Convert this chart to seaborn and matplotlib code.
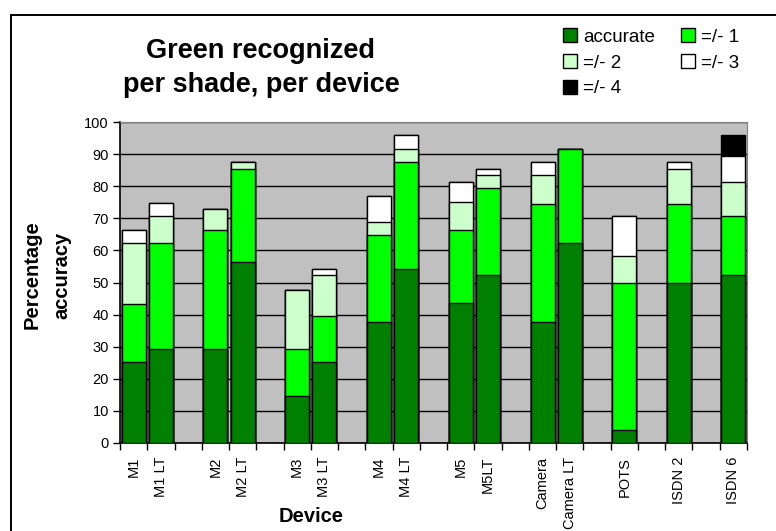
import numpy as np
import pandas as pd
import matplotlib
matplotlib.use("Agg")
import matplotlib.pyplot as plt
from matplotlib.patches import Patch, Rectangle
import seaborn as sns

# categories in display order, blank slots are the gaps between device groups
slots = ["M1", "M1 LT", " ", "M2", "M2 LT", "  ", "M3", "M3 LT", "   ",
         "M4", "M4 LT", "    ", "M5", "M5LT", "     ", "Camera", "Camera LT",
         "      ", "POTS", "       ", "ISDN 2", "        ", "ISDN 6"]
devices = ["M1", "M1 LT", "M2", "M2 LT", "M3", "M3 LT", "M4", "M4 LT", "M5",
           "M5LT", "Camera", "Camera LT", "POTS", "ISDN 2", "ISDN 6"]

# segment heights per device (percentage points)
accurate = [25.2, 29.4, 29.4, 56.4, 14.6, 25.2, 37.6, 54.1, 43.6, 52.3, 37.6, 62.3, 3.9, 49.8, 52.3]
pm1 = [18.2, 32.9, 37.1, 29.0, 14.6, 14.3, 27.1, 33.4, 22.9, 27.0, 37.0, 29.3, 45.9, 24.8, 18.3]
pm2 = [18.9, 8.3, 6.4, 2.2, 18.4, 12.7, 4.0, 4.2, 8.7, 4.2, 8.9, 0.0, 8.4, 10.8, 10.6]
pm3 = [4.2, 4.2, 0.0, 0.0, 0.0, 1.9, 8.2, 4.2, 6.0, 1.9, 4.1, 0.0, 12.4, 2.1, 8.1]
pm4 = [0.0, 0.0, 0.0, 0.0, 0.0, 0.0, 0.0, 0.0, 0.0, 0.0, 0.0, 0.0, 0.0, 0.0, 6.6]

levels = ["accurate", "=/- 1", "=/- 2", "=/- 3", "=/- 4"]
colors = ["#008000", "#00FF00", "#CCFFCC", "#FFFFFF", "#000000"]

df = pd.DataFrame({"device": devices})
cum = np.zeros(len(devices))
for name, seg in zip(levels, [accurate, pm1, pm2, pm3, pm4]):
    cum = cum + np.array(seg)
    df[name] = cum

sns.set_style("ticks")
plt.rcParams["font.family"] = ["Liberation Sans", "DejaVu Sans"]
for key in ["text.color", "axes.labelcolor", "xtick.color", "ytick.color"]:
    plt.rcParams[key] = "black"

fig = plt.figure(figsize=(7.76, 5.31), dpi=100)
ax = fig.add_axes([120 / 776, 1 - 443 / 531, 627 / 776, 321 / 531])
ax.set_facecolor("#C0C0C0")

# draw cumulative totals from the top down so each layer covers the one above
for name, col in reversed(list(zip(levels, colors))):
    sns.barplot(data=df, x="device", y=name, order=slots, color=col,
                saturation=1, edgecolor="black", linewidth=1, width=0.88,
                errorbar=None, ax=ax, zorder=3)

ax.set_ylim(0, 100)
ax.set_yticks(range(0, 101, 10))
ax.yaxis.grid(True, color="black", lw=1)
ax.xaxis.grid(False)
ax.set_axisbelow(True)
ax.tick_params(axis="y", labelsize=10.5, length=5, width=1, color="black", pad=3)
ax.set_xticks(range(len(slots)))
ax.set_xticklabels(slots, rotation=90, fontsize=10.5)
ax.tick_params(axis="x", which="major", length=0, pad=10)
ax.set_xticks(np.arange(-0.5, len(slots)), minor=True)
ax.tick_params(axis="x", which="minor", length=5, width=1, color="black")
ax.set_xlim(-0.5, len(slots) - 0.5)
ax.set_xlabel("")
ax.set_ylabel("")
for s in ["top", "right"]:
    ax.spines[s].set_color("#808080")
for s in ["left", "bottom"]:
    ax.spines[s].set_color("black")
    ax.spines[s].set_linewidth(1.2)

fig.text(261 / 776, 1 - 68 / 531, "Green recognized\nper shade, per device",
         ha="center", va="center", fontsize=19.5, fontweight="bold", linespacing=1.4)
fig.text(47 / 776, 1 - 275 / 531, "Percentage\naccuracy", ha="center", va="center",
         rotation=90, fontsize=14.5, fontweight="bold", linespacing=1.75)
fig.text(311 / 776, 1 - 516 / 531, "Device", ha="center", va="center",
         fontsize=14.5, fontweight="bold")

handles = [Patch(facecolor=c, edgecolor="black", linewidth=1) for c in colors]
order = [0, 2, 4, 1, 3]
fig.legend([handles[i] for i in order], [levels[i] for i in order],
           loc="upper left", bbox_to_anchor=(554 / 776, 1 - 19 / 531), ncol=2,
           frameon=False, fontsize=13.5, handlelength=0.75, handleheight=0.75,
           handletextpad=0.3, columnspacing=1.4, labelspacing=0.45, borderpad=0)

fig.patches.append(Rectangle((11 / 776, -0.1), 1.0, 1.1 - 15 / 531, transform=fig.transFigure,
                             fill=False, edgecolor="black", lw=1.4))

fig.savefig("out.png", dpi=100)
